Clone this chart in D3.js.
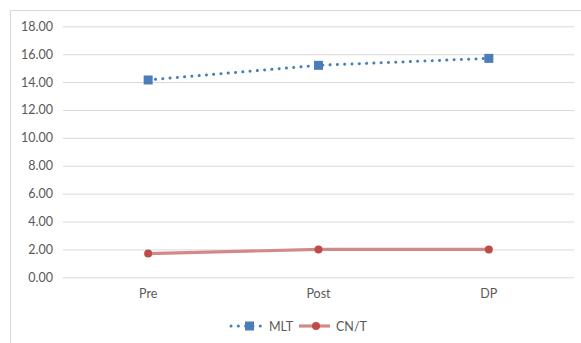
<!DOCTYPE html>
<html>
<head>
<meta charset="utf-8">
<script src="https://cdn.jsdelivr.net/npm/d3@7"></script>
<style>
  html, body { margin: 0; padding: 0; background: #fff; }
  svg { display: block; }
  text { font-family: Lato, "Open Sans", sans-serif; fill: #595959; }
</style>
</head>
<body>
<svg id="chart" width="581" height="343"></svg>
<script>
// Measurement phases along the x axis
const categories = ["Pre", "Post", "DP"];
// Series values per phase
const mltValues = [14.15, 15.2, 15.7];
const cntValues = [1.7, 2.0, 2.0];
// Y axis ticks
const yTicks = [0, 2, 4, 6, 8, 10, 12, 14, 16, 18];
const seriesNames = ["MLT", "CN/T"];

const svg = d3.select("#chart");
const W = 581, H = 343;

// Chart area frame (only left and top edges fall inside the view)
svg.append("rect")
  .attr("x", 10.5).attr("y", 10.5)
  .attr("width", W + 20).attr("height", H + 20)
  .attr("fill", "#fff").attr("stroke", "#d9d9d9").attr("stroke-width", 1);

const plot = { left: 63, right: 574, top: 26.3, bottom: 277.3 };

const x = d3.scaleBand().domain(categories).range([plot.left, plot.right]);
const y = d3.scaleLinear().domain([0, 18]).range([plot.bottom, plot.top]);

// Horizontal gridlines with value labels
const yAxis = d3.axisLeft(y)
  .tickValues(yTicks)
  .tickSize(-(plot.right - plot.left))
  .tickPadding(10)
  .tickFormat(d3.format(".2f"));

const gy = svg.append("g")
  .attr("transform", `translate(${plot.left},0)`)
  .call(yAxis);
gy.select(".domain").remove();
gy.selectAll(".tick line").attr("stroke", "#d9d9d9").attr("stroke-width", 1);
gy.selectAll(".tick text")
  .attr("font-size", 12.5)
  .attr("font-family", "Lato, sans-serif")
  .attr("fill", "#595959");

// Category labels
const xAxis = d3.axisBottom(x).tickSize(0).tickPadding(12);
const gx = svg.append("g")
  .attr("transform", `translate(0,${plot.bottom})`)
  .call(xAxis);
gx.select(".domain").remove();
gx.selectAll(".tick text")
  .attr("font-size", 12.5)
  .attr("font-family", "Lato, sans-serif")
  .attr("fill", "#595959");

const cx = c => x(c) + x.bandwidth() / 2;
const line = d3.line().x((d, i) => cx(categories[i])).y(d => y(d));

const blue = "#4a7ebb";
const red = "#be4b48";
const redLine = "#d28a88";

// CN/T series: solid line with circle markers
svg.append("path")
  .datum(cntValues)
  .attr("d", line)
  .attr("fill", "none")
  .attr("stroke", redLine)
  .attr("stroke-width", 3.2)
  .attr("stroke-linecap", "round");
svg.selectAll(".cnt-dot")
  .data(cntValues)
  .enter().append("circle")
  .attr("cx", (d, i) => cx(categories[i]))
  .attr("cy", d => y(d))
  .attr("r", 4)
  .attr("fill", red);

// MLT series: round-dotted line with square markers
svg.append("path")
  .datum(mltValues)
  .attr("d", line)
  .attr("fill", "none")
  .attr("stroke", blue)
  .attr("stroke-width", 3)
  .attr("stroke-linecap", "round")
  .attr("stroke-dasharray", "0.1 7.2");
svg.selectAll(".mlt-sq")
  .data(mltValues)
  .enter().append("rect")
  .attr("x", (d, i) => cx(categories[i]) - 4.5)
  .attr("y", d => y(d) - 4.5)
  .attr("width", 9).attr("height", 9)
  .attr("fill", blue);

// Legend
const lg = svg.append("g").attr("transform", "translate(0,326)");
lg.append("line")
  .attr("x1", 231).attr("x2", 262).attr("y1", 0).attr("y2", 0)
  .attr("stroke", blue).attr("stroke-width", 3)
  .attr("stroke-linecap", "round").attr("stroke-dasharray", "0.1 7.2");
lg.append("rect")
  .attr("x", 245).attr("y", -4.5).attr("width", 9).attr("height", 9)
  .attr("fill", blue);
lg.append("text")
  .attr("x", 269).attr("y", 4.5)
  .attr("font-size", 12.5)
  .text(seriesNames[0]);
lg.append("line")
  .attr("x1", 299).attr("x2", 330).attr("y1", 0).attr("y2", 0)
  .attr("stroke", redLine).attr("stroke-width", 3.2);
lg.append("circle")
  .attr("cx", 316).attr("cy", 0).attr("r", 4).attr("fill", red);
lg.append("text")
  .attr("x", 336).attr("y", 4.5)
  .attr("font-size", 12.5)
  .text(seriesNames[1]);
</script>
</body>
</html>
